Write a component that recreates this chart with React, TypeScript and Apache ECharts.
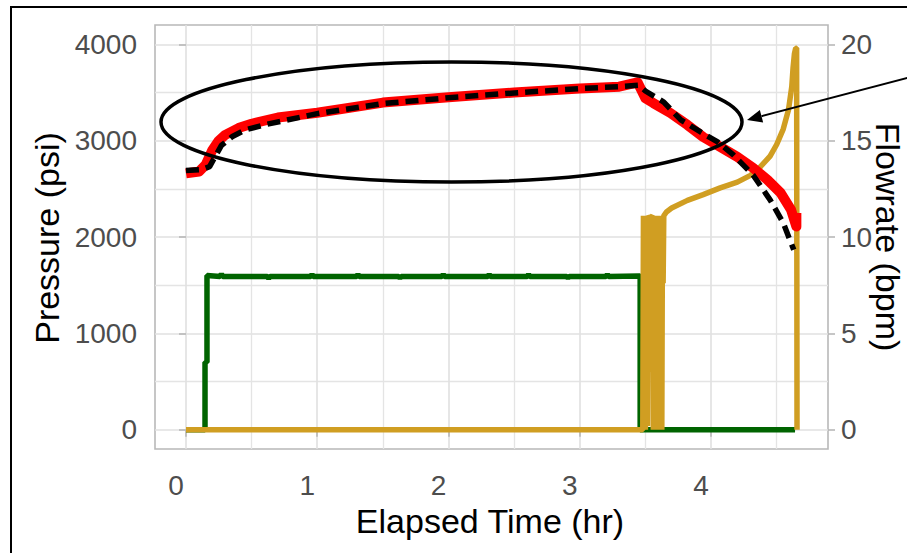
import React, { useEffect, useRef } from "react";
import * as echarts from "echarts";

const FONT = "'Liberation Sans', Arial, sans-serif";

const timeTicks = [0, 1, 2, 3, 4];
const pressureTicks = [0, 1000, 2000, 3000, 4000];
const flowTicks = [0, 5, 10, 15, 20];

// measured pressure (red), psi
const measuredTime = [0.0, 0.1, 0.15, 0.2, 0.25, 0.3, 0.4, 0.5, 0.7, 1.0, 1.5, 2.0, 2.5, 3.0, 3.3, 3.44, 3.5, 3.56, 3.69, 3.82, 3.94, 4.07, 4.2, 4.32, 4.43, 4.53, 4.61, 4.65, 4.65];
const measuredPressure = [2660, 2680, 2750, 2900, 3000, 3060, 3130, 3175, 3240, 3290, 3395, 3450, 3500, 3540, 3560, 3605, 3440, 3390, 3287, 3163, 3038, 2935, 2831, 2717, 2593, 2458, 2281, 2110, 2250];

// model pressure (black dashed), psi
const modelTime = [0, 0.12, 0.18, 0.22, 0.27, 0.35, 0.45, 0.6, 1.0, 1.5, 2.0, 2.5, 3.0, 3.3, 3.45, 3.5, 3.64, 3.77, 3.92, 4.05, 4.17, 4.32, 4.45, 4.55, 4.63];
const modelPressure = [2690, 2700, 2730, 2830, 2950, 3040, 3110, 3165, 3280, 3385, 3445, 3495, 3540, 3560, 3575, 3515, 3400, 3215, 3090, 2987, 2852, 2644, 2385, 2147, 1867];

// first injection rate (green), bpm
const rateATime = [0, 0.145, 0.145, 0.16, 0.16, 0.26, 0.27, 0.28, 0.62, 0.63, 0.64, 0.95, 0.96, 0.97, 1.3, 1.31, 1.32, 1.62, 1.63, 1.64, 1.95, 1.96, 1.97, 2.3, 2.31, 2.32, 2.6, 2.61, 2.62, 2.9, 2.91, 2.92, 3.2, 3.21, 3.22, 3.45, 3.46, 3.46, 4.64];
const rateA = [0, 0, 3.5, 3.5, 8.0, 7.95, 8.08, 7.95, 7.95, 7.86, 7.95, 7.95, 8.06, 7.95, 7.95, 8.06, 7.95, 7.95, 7.87, 7.95, 7.95, 8.06, 7.95, 7.95, 8.06, 7.95, 7.95, 8.06, 7.95, 7.95, 7.88, 7.95, 7.95, 8.06, 7.95, 7.98, 7.98, 0, 0];

// second injection rate (gold), bpm
const rateBTime = [0, 3.48, 3.485, 3.49, 3.495, 3.5, 3.505, 3.515, 3.52, 3.53, 3.535, 3.54, 3.555, 3.56, 3.57, 3.58, 3.59, 3.6, 3.61, 3.625, 3.63, 3.635, 3.64, 3.66, 3.7, 3.82, 3.94, 4.07, 4.2, 4.3, 4.37, 4.45, 4.5, 4.55, 4.59, 4.615, 4.625, 4.635, 4.645, 4.652, 4.655];
const rateB = [0, 0, 11.1, 0, 11.1, 0, 11.1, 0.2, 11.1, 11.0, 3.0, 11.0, 11.1, 0, 11.1, 0, 11.1, 0, 11.1, 0, 11.0, 7.6, 11.1, 11.3, 11.5, 11.9, 12.2, 12.55, 12.85, 13.2, 13.6, 14.2, 14.8, 15.6, 16.6, 17.8, 18.8, 19.5, 19.8, 19.8, 0];

const zip = (xs: number[], ys: number[]) => xs.map((x, i) => [x, ys[i]]);

export default function App() {
  const ref = useRef<HTMLDivElement>(null);

  useEffect(() => {
    if (!ref.current) return;
    const chart = echarts.init(ref.current, undefined, { renderer: "svg" });

    const tickLine = { color: "#B8B8B8", width: 1.6 };
    const labelBase = { fontSize: 28, color: "#4D4D4D", fontFamily: FONT };

    // arrow geometry
    const tip = [747, 120];
    const tail = [925, 73.3];
    const dx = tail[0] - tip[0];
    const dy = tail[1] - tip[1];
    const len = Math.sqrt(dx * dx + dy * dy);
    const ux = dx / len;
    const uy = dy / len;
    const headLen = 15;
    const headHalf = 6.5;
    const bx = tip[0] + ux * headLen;
    const by = tip[1] + uy * headLen;
    const px = -uy * headHalf;
    const py = ux * headHalf;

    chart.setOption({
      animation: false,
      backgroundColor: "#ffffff",
      grid: {
        left: 155,
        top: 25,
        width: 673,
        height: 424,
        show: true,
        borderColor: "#B8B8B8",
        borderWidth: 1.6,
        backgroundColor: "transparent",
        containLabel: false,
      },
      xAxis: {
        type: "value",
        min: -0.236,
        max: 4.891,
        axisLine: { show: false },
        axisTick: { show: true, length: 7, lineStyle: tickLine, customValues: timeTicks },
        axisLabel: {
          ...labelBase,
          customValues: timeTicks,
          margin: 22,
          padding: [0, 20, 0, 0],
          formatter: (v: number) => String(v),
        },
        splitLine: { show: true, lineStyle: { color: "#E0E0E0", width: 1.6 } },
        minorTick: { show: false, splitNumber: 2 },
        minorSplitLine: { show: true, lineStyle: { color: "#E4E4E4", width: 1.3 } },
      },
      yAxis: [
        {
          type: "value",
          min: -200,
          max: 4200,
          axisLine: { show: false },
          axisTick: { show: true, length: 7, lineStyle: tickLine, customValues: pressureTicks },
          axisLabel: {
            ...labelBase,
            customValues: pressureTicks,
            margin: 18,
            padding: [6, 0, 0, 0],
            formatter: (v: number) => String(v),
          },
          splitLine: { show: true, lineStyle: { color: "#E0E0E0", width: 1.6 } },
          minorTick: { show: false, splitNumber: 2 },
          minorSplitLine: { show: true, lineStyle: { color: "#E4E4E4", width: 1.3 } },
        },
        {
          type: "value",
          position: "right",
          min: -1,
          max: 21,
          axisLine: { show: false },
          axisTick: { show: true, length: 7, lineStyle: tickLine, customValues: flowTicks },
          axisLabel: {
            ...labelBase,
            customValues: flowTicks,
            margin: 13,
            padding: [5, 0, 0, 0],
            formatter: (v: number) => String(v),
          },
          splitLine: { show: false },
          minorSplitLine: { show: false },
        },
      ],
      series: [
        {
          name: "Rate A",
          type: "line",
          yAxisIndex: 1,
          data: zip(rateATime, rateA),
          showSymbol: false,
          lineStyle: { color: "#006400", width: 5.5, cap: "butt", join: "bevel" },
          z: 2,
        },
        {
          name: "Rate B",
          type: "line",
          yAxisIndex: 1,
          data: zip(rateBTime, rateB),
          showSymbol: false,
          lineStyle: { color: "#D09E22", width: 5.5, cap: "butt", join: "bevel" },
          z: 3,
        },
        {
          name: "Measured pressure",
          type: "line",
          yAxisIndex: 0,
          data: zip(measuredTime, measuredPressure),
          showSymbol: false,
          lineStyle: { color: "#FF0000", width: 10, cap: "butt", join: "round" },
          z: 4,
        },
        {
          name: "Model pressure",
          type: "line",
          yAxisIndex: 0,
          data: zip(modelTime, modelPressure),
          showSymbol: false,
          lineStyle: { color: "#000000", width: 5.5, type: [13, 7], cap: "butt" },
          z: 5,
        },
      ],
      graphic: [
        {
          type: "rect",
          silent: true,
          shape: { x: 11, y: 7, width: 1000, height: 1000 },
          style: { fill: "none", stroke: "#000000", lineWidth: 2 },
          z: 50,
        },
        {
          type: "ellipse",
          silent: true,
          shape: { cx: 451.5, cy: 122, rx: 290.5, ry: 60 },
          style: { fill: "none", stroke: "#000000", lineWidth: 3.5 },
          z: 60,
        },
        {
          type: "line",
          silent: true,
          shape: { x1: tail[0], y1: tail[1], x2: bx, y2: by },
          style: { stroke: "#000000", lineWidth: 2 },
          z: 60,
        },
        {
          type: "polygon",
          silent: true,
          shape: {
            points: [
              [tip[0], tip[1]],
              [bx + px, by + py],
              [bx - px, by - py],
            ],
          },
          style: { fill: "#000000" },
          z: 60,
        },
        {
          type: "text",
          x: 47,
          y: 238,
          rotation: Math.PI / 2,
          style: {
            text: "Pressure (psi)",
            fontSize: 34,
            fontFamily: FONT,
            fill: "#000000",
            align: "center",
            verticalAlign: "middle",
          },
          z: 60,
        },
        {
          type: "text",
          x: 490,
          y: 521,
          style: {
            text: "Elapsed Time (hr)",
            fontSize: 34,
            fontFamily: FONT,
            fill: "#000000",
            align: "center",
            verticalAlign: "middle",
          },
          z: 60,
        },
        {
          type: "text",
          x: 888,
          y: 237,
          rotation: -Math.PI / 2,
          style: {
            text: "Flowrate (bpm)",
            fontSize: 34,
            fontFamily: FONT,
            fill: "#000000",
            align: "center",
            verticalAlign: "middle",
          },
          z: 60,
        },
      ],
    });

    return () => chart.dispose();
  }, []);

  return (
    <div
      ref={ref}
      style={{ position: "fixed", left: 0, top: 0, width: 907, height: 553, background: "#ffffff" }}
    />
  );
}
